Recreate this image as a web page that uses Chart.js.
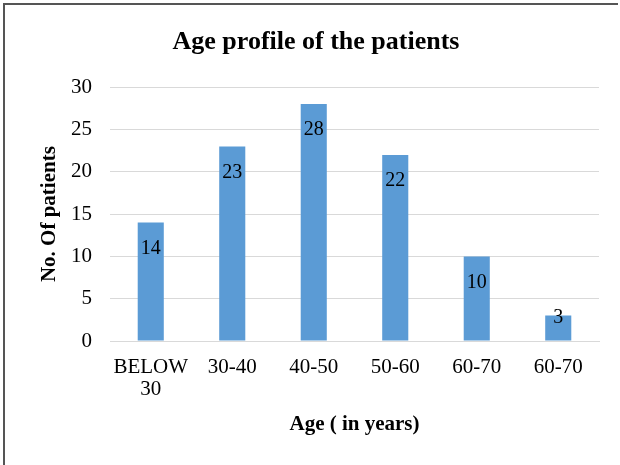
<!DOCTYPE html>
<html>
<head>
<meta charset="utf-8">
<script src="https://cdn.jsdelivr.net/npm/chart.js@4"></script>
<style>
  body { margin: 0; background: #fff; }
  #wrap { width: 620px; height: 465px; }
</style>
</head>
<body>
<div id="wrap"><canvas id="agechart" width="620" height="465"></canvas></div>
<script>
const ageGroups = [['BELOW', '30'], '30-40', '40-50', '50-60', '60-70', '60-70'];
const patients = [14, 23, 28, 22, 10, 3];
const yTicks = [0, 5, 10, 15, 20, 25, 30];

const serif = '"Liberation Serif", "Times New Roman", serif';

// labels inside the top of each bar, like the Excel original
const barLabels = {
  id: 'barLabels',
  afterDatasetsDraw(chart) {
    const ctx = chart.ctx;
    const meta = chart.getDatasetMeta(0);
    ctx.save();
    ctx.font = '20px ' + serif;
    ctx.fillStyle = '#000';
    ctx.textAlign = 'center';
    ctx.textBaseline = 'middle';
    meta.data.forEach((bar, i) => {
      const y = Math.min(bar.y + 26, bar.base - 23);
      ctx.fillText(String(patients[i]), bar.x, y);
    });
    ctx.restore();
  }
};

const frame = {
  id: 'frame',
  beforeDraw(chart) {
    const ctx = chart.ctx;
    ctx.save();
    ctx.strokeStyle = '#555';
    ctx.lineWidth = 2;
    ctx.beginPath();
    ctx.moveTo(4, 465);
    ctx.lineTo(4, 4);
    ctx.lineTo(618, 4);
    ctx.stroke();
    ctx.restore();
  }
};

new Chart(document.getElementById('agechart').getContext('2d'), {
  type: 'bar',
  data: {
    labels: ageGroups,
    datasets: [{
      data: patients,
      backgroundColor: '#5B9BD5',
      barPercentage: 0.32,
      categoryPercentage: 1.0
    }]
  },
  options: {
    responsive: false,
    animation: false,
    layout: { padding: { left: 33, right: 21, top: 1, bottom: 0 } },
    plugins: {
      legend: { display: false },
      tooltip: { enabled: false },
      title: {
        display: true,
        text: 'Age profile of the patients',
        color: '#000',
        font: { family: serif, size: 26, weight: 'bold', lineHeight: 1.2 },
        padding: { top: 26, bottom: 29 }
      }
    },
    scales: {
      x: {
        grid: { display: false, drawTicks: false },
        border: { display: true, color: '#D9D9D9' },
        ticks: { color: '#000', font: { family: serif, size: 21, lineHeight: 1.05 }, padding: 15, maxRotation: 0, autoSkip: false },
        title: {
          display: true,
          text: 'Age ( in years)',
          color: '#000',
          font: { family: serif, size: 21, weight: 'bold' },
          padding: { top: 0, bottom: 28 }
        },
        afterFit(scale) { scale.height = 124; }
      },
      y: {
        min: 0,
        max: 30,
        afterBuildTicks(scale) { scale.ticks = yTicks.map(v => ({ value: v })); },
        grid: { color: '#D9D9D9', lineWidth: 1, drawTicks: false },
        border: { display: false },
        ticks: { color: '#000', font: { family: serif, size: 21 }, padding: 18 },
        title: {
          display: true,
          text: 'No. Of patients',
          color: '#000',
          font: { family: serif, size: 21, weight: 'bold' },
          padding: { top: 4, bottom: 0 }
        },
        afterFit(scale) { scale.width = 77; }
      }
    }
  },
  plugins: [frame, barLabels]
});
</script>
</body>
</html>
